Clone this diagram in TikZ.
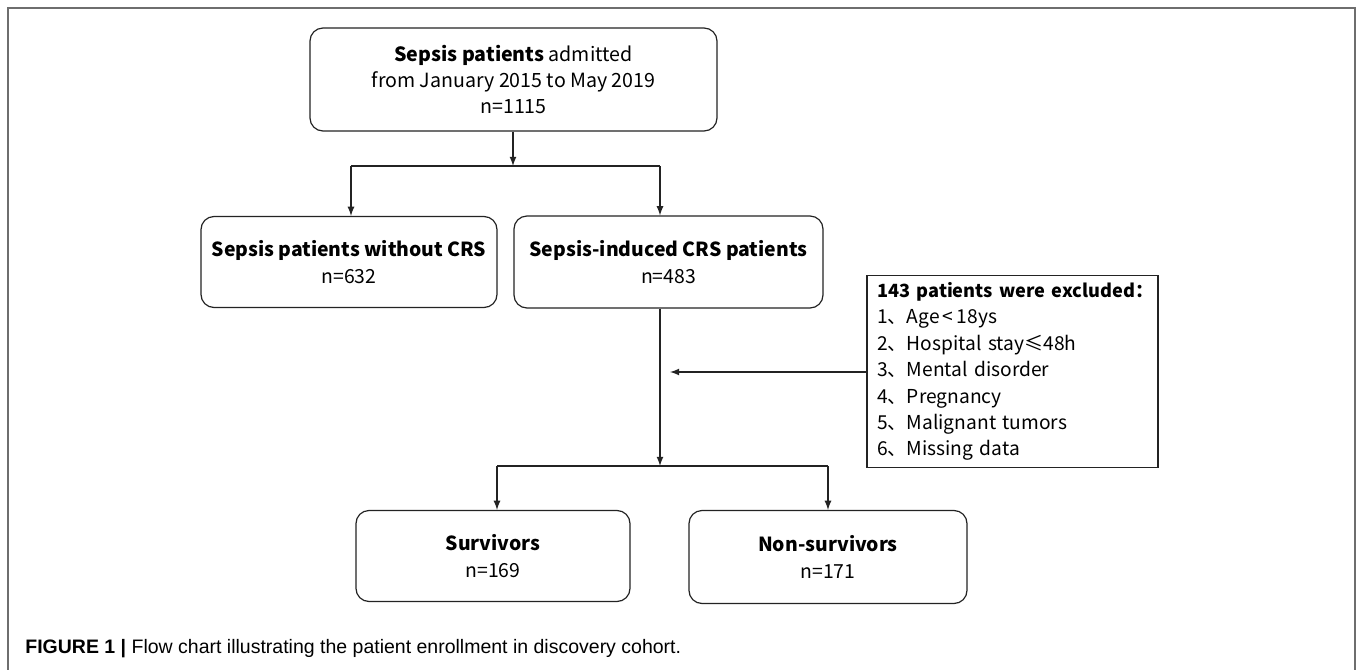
\documentclass[tikz,border=0pt]{standalone}
\usepackage{fontspec}
\setmainfont{Noto Sans CJK SC}
\newfontfamily\capfont{Liberation Sans}
\usetikzlibrary{arrows}
\definecolor{framegray}{RGB}{110,110,110}
\definecolor{ink}{RGB}{35,35,35}

\begin{document}
\begin{tikzpicture}[x=0.5pt,y=-0.5pt,
 box/.style={rectangle,rounded corners=6.5pt,draw=ink,line width=0.6pt,align=center,inner sep=0pt,font=\fontsize{9.7}{13.8}\selectfont},
 link/.style={draw=ink,line width=0.6pt},
 arr/.style={link,-latex}]

\useasboundingbox (0,0) rectangle (1357,670);
\draw[framegray,line width=0.8pt] (8,670) -- (8,8) -- (1355,8) -- (1355,670);

 \node at (513.5,79.5) [box,minimum width=203.5pt,minimum height=51.5pt,font=\fontsize{9.8}{13}\selectfont] (1) {\textbf{Sepsis patients} admitted\\from January 2015 to May 2019\\n=1115};
 \node at (349,262) [box,minimum width=148pt,minimum height=45.5pt] (2) {\textbf{Sepsis patients without CRS}\\n=632};
 \node at (668.5,262) [box,minimum width=154.5pt,minimum height=46pt] (3) {\textbf{Sepsis-induced CRS patients}\\n=483};
 \node at (1012.5,371.5) [rectangle,draw=ink,line width=0.6pt,minimum width=145.5pt,minimum height=94.5pt,text width=135.5pt,inner xsep=5pt,align=left,font=\fontsize{9.6}{13.2}\selectfont] (4) {\mbox{\fontsize{9.1}{13.2}\selectfont\textbf{143 patients were excluded：}}\\1、Age\,<\,18ys\\2、Hospital stay≤48h\\3、Mental disorder\\4、Pregnancy\\5、Malignant tumors\\6、Missing data};
 \node at (493,556) [box,minimum width=137pt,minimum height=45.5pt] (5) {\textbf{Survivors}\\n=169};
 \node at (828,557) [box,minimum width=139pt,minimum height=46.5pt] (6) {\textbf{Non-survivors}\\n=171};

 \coordinate (s1) at (513,166);
 \coordinate (l1) at (351,166);
 \coordinate (r1) at (660,166);
 \coordinate (s2) at (660,466);
 \coordinate (l2) at (497,466);
 \coordinate (r2) at (828,466);
 \coordinate (x) at (670,372);

 \draw[arr] (s1 |- 1.south)--(s1);
 \draw[link] (l1)--(r1);
 \draw[arr] (l1)--(l1 |- 2.north);
 \draw[arr] (r1)--(r1 |- 3.north);
 \draw[arr] (s2 |- 3.south)--(s2);
 \draw[arr] (4.west |- x)--(x);
 \draw[link] (l2)--(r2);
 \draw[arr] (l2)--(l2 |- 5.north);
 \draw[arr] (r2)--(r2 |- 6.north);

 \node at (25,649) [anchor=west,inner sep=0pt,font=\capfont\fontsize{9.75}{11}\selectfont] (cap) {\textbf{FIGURE 1 |} Flow chart illustrating the patient enrollment in discovery cohort.};
\end{tikzpicture}
\end{document}
